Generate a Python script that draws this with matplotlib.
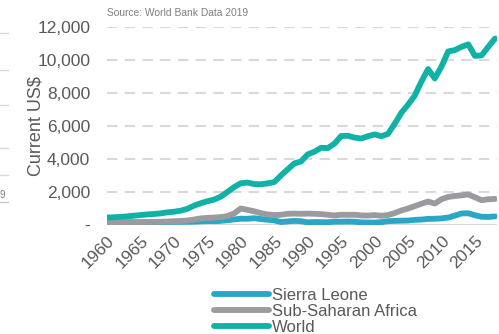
import matplotlib
matplotlib.use("Agg")
import matplotlib.pyplot as plt
from matplotlib.ticker import FuncFormatter
from matplotlib.lines import Line2D

years = list(range(1960, 2019))

world = [452, 467, 493, 520, 562, 601, 640, 666, 703, 765,
         802, 868, 979, 1171, 1318, 1439, 1536, 1718, 2002, 2296,
         2530, 2570, 2480, 2470, 2520, 2600, 3000, 3370, 3730, 3850,
         4280, 4440, 4680, 4660, 4930, 5390, 5410, 5300, 5240, 5380,
         5490, 5380, 5520, 6130, 6800, 7290, 7840, 8690, 9450, 8880,
         9600, 10520, 10600, 10800, 10950, 10250, 10280, 10800, 11300]

ssa = [140, 145, 150, 160, 165, 175, 185, 190, 195, 210,
       230, 245, 270, 330, 400, 430, 450, 480, 540, 700,
       1000, 920, 830, 720, 640, 600, 620, 680, 690, 680,
       690, 680, 660, 620, 580, 620, 620, 620, 580, 570,
       600, 560, 600, 720, 880, 1000, 1140, 1290, 1420, 1300,
       1560, 1700, 1760, 1800, 1850, 1680, 1500, 1560, 1580]

sl = [150, 155, 160, 165, 170, 170, 175, 175, 180, 185,
      190, 190, 195, 200, 220, 240, 230, 250, 290, 340,
      380, 380, 410, 360, 320, 280, 180, 220, 250, 230,
      160, 180, 170, 170, 200, 200, 210, 200, 160, 150,
      150, 170, 230, 250, 260, 270, 310, 330, 370, 380,
      400, 450, 570, 700, 710, 590, 500, 490, 520]

series = [("Sierra Leone", sl, "#2AA7C7"),
          ("Sub-Saharan Africa", ssa, "#9B9B9F"),
          ("World", world, "#10B2A6")]

plt.rcParams['font.family'] = ['Liberation Sans', 'DejaVu Sans']

fig = plt.figure(figsize=(4.99, 3.34), dpi=100)
ax = fig.add_axes([107/499, 1 - 225/334, (497 - 107)/499, (225 - 27)/334])

for name, vals, col in series:
    ax.plot(years, vals, color=col, lw=4.2, label=name, solid_capstyle='round', zorder=3)

ax.set_xlim(1960, 2018.3)
ax.set_ylim(0, 12000)
ax.set_yticks(range(0, 12001, 2000))
ax.yaxis.set_major_formatter(FuncFormatter(lambda v, p: "-" if v == 0 else f"{int(v):,}"))
ax.set_xticks(range(1960, 2016, 5))
ax.tick_params(axis='both', length=0, colors='#595959', labelsize=12.5)
ax.tick_params(axis='y', pad=12)
ax.tick_params(axis='x', pad=6)
plt.setp(ax.get_xticklabels(), rotation=45, ha='right', rotation_mode='anchor')

for y in range(2000, 12001, 2000):
    ax.axhline(y, color='#D9D9D9', lw=1.5, ls=(0, (5, 3.5)), zorder=1)
ax.axhline(0, color='#D9D9D9', lw=1.5, zorder=1)
for s in ax.spines.values():
    s.set_visible(False)

ax.set_ylabel("Current US$", fontsize=13, color='#595959', labelpad=-5)

ax.text(0.0, 1.045, "Source: World Bank Data 2019", transform=ax.transAxes,
        fontsize=7.4, color='#7F7F7F', ha='left', va='bottom')

leg = fig.legend(loc='upper left', bbox_to_anchor=(214/499, 1 - 288/334), frameon=False,
                 fontsize=12, labelspacing=0.05, handlelength=3.3, handletextpad=0.2,
                 borderpad=0, borderaxespad=0)
for t in leg.get_texts():
    t.set_color('#595959')

# fragments of neighbouring content at the left edge
for yy in [33, 70, 105, 148, 175]:
    fig.add_artist(Line2D([0, 8/499], [1 - yy/334] * 2, color='#D9D9D9', lw=1))
fig.text(0, 1 - 200/334, "9", fontsize=7, color='#7F7F7F', ha='left', va='bottom')
fig.add_artist(Line2D([0, 8/499], [1 - 202/334] * 2, color='#BFBFBF', lw=0.8))

fig.savefig("out.png", dpi=100)
